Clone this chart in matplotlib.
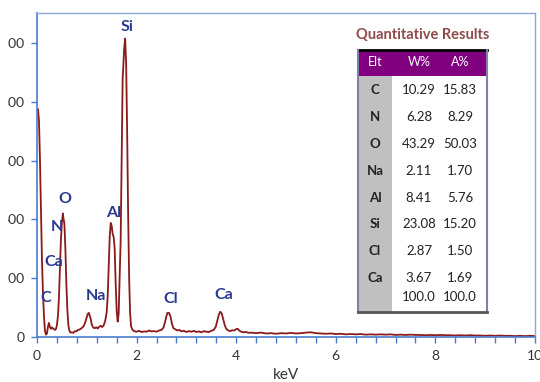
import matplotlib
matplotlib.use("Agg")
import matplotlib.pyplot as plt
from matplotlib.patches import Rectangle
from matplotlib.ticker import MultipleLocator

plt.rcParams['font.family'] = ['Lato', 'DejaVu Sans']

# spectrum (keV, counts)
kev = [0.00, 0.02, 0.04, 0.06, 0.08, 0.10, 0.12, 0.14, 0.16, 0.18, 0.20, 0.22, 0.24, 0.26,
       0.28, 0.30, 0.32, 0.34, 0.36, 0.38, 0.40, 0.42, 0.44, 0.46, 0.48, 0.50, 0.52, 0.53,
       0.55, 0.57, 0.59, 0.61, 0.63, 0.65, 0.67, 0.70, 0.73, 0.76, 0.79, 0.82, 0.85, 0.88,
       0.91, 0.94, 0.97, 1.00, 1.02, 1.04, 1.06, 1.08, 1.10, 1.13, 1.16, 1.19, 1.22, 1.25,
       1.28, 1.31, 1.34, 1.37, 1.40, 1.42, 1.44, 1.46, 1.48, 1.50, 1.52, 1.54, 1.56, 1.58,
       1.60, 1.62, 1.64, 1.66, 1.68, 1.70, 1.72, 1.73, 1.75, 1.77, 1.79, 1.81, 1.83, 1.85,
       1.87, 1.89, 1.92,
       1.95, 2.00, 2.05, 2.10, 2.15, 2.20, 2.25, 2.30, 2.35, 2.40, 2.45, 2.50, 2.54, 2.57,
       2.60, 2.62, 2.65, 2.68, 2.71, 2.74, 2.78, 2.82, 2.86, 2.90, 2.95, 3.00, 3.05, 3.10,
       3.15, 3.20, 3.25, 3.30, 3.35, 3.40, 3.45, 3.50, 3.55, 3.59, 3.62, 3.65, 3.68, 3.71,
       3.74, 3.77, 3.80, 3.84, 3.88, 3.92, 3.96, 4.00, 4.03, 4.06, 4.10, 4.15, 4.20, 4.25,
       4.30,
       4.4, 4.5, 4.6, 4.7, 4.8, 4.9, 5.0, 5.1, 5.2, 5.3, 5.4, 5.5, 5.6, 5.7, 5.8, 5.9,
       6.0, 6.1, 6.2, 6.3, 6.4, 6.5, 6.6, 6.7, 6.8, 6.9, 7.0, 7.1, 7.2, 7.3, 7.4, 7.5,
       7.6, 7.7, 7.8, 7.9, 8.0, 8.1, 8.2, 8.3, 8.4, 8.5, 8.6, 8.7, 8.8, 8.9, 9.0, 9.1,
       9.2, 9.3, 9.4, 9.5, 9.6, 9.7, 9.8, 9.9, 10.0]
counts = [770, 775, 735, 600, 430, 260, 150, 70, 20, 8, 12, 35, 48, 34,
          28, 33, 29, 27, 24, 27, 40, 70, 130, 230, 330, 390, 420, 405,
          385, 300, 180, 90, 40, 22, 15, 16, 14, 20, 19, 24, 25, 28,
          32, 38, 50, 68, 78, 82, 72, 60, 42, 32, 30, 33, 29, 35,
          38, 34, 40, 55, 85, 140, 240, 340, 388, 378, 350, 340, 300, 180,
          90, 52, 80, 200, 330, 600, 880, 910, 980, 1015, 930, 700, 420, 200,
          80, 35, 24,
          20, 18, 21, 17, 19, 18, 22, 19, 20, 18, 22, 24, 32, 50,
          72, 82, 82, 70, 45, 30, 26, 22, 24, 19, 21, 17, 20, 18,
          21, 17, 19, 16, 20, 18, 17, 21, 24, 35, 55, 75, 86, 80,
          60, 40, 28, 22, 20, 23, 22, 27, 28, 22, 18, 16, 17, 14,
          15,
          13, 15, 12, 13, 11, 13, 12, 14, 12, 13, 15, 16, 13, 12, 11, 12,
          10, 11, 9, 10, 9, 10, 8, 9, 8, 9, 8, 9, 7, 8, 7, 8,
          7, 7, 6, 7, 6, 7, 6, 6, 5, 6, 5, 6, 5, 5, 4, 5,
          4, 5, 4, 4, 3, 4, 3, 4, 3]

# peak labels
peak_names = ['Si', 'O', 'N', 'Ca', 'C', 'Na', 'Al', 'Cl', 'Ca']
peak_x = [1.81, 0.56, 0.40, 0.34, 0.18, 1.18, 1.53, 2.69, 3.75]
peak_y = [1056, 470, 375, 255, 133, 140, 422, 129, 143]

# quantitative results table
elements = ['C', 'N', 'O', 'Na', 'Al', 'Si', 'Cl', 'Ca']
wt_pct = ['10.29', '6.28', '43.29', '2.11', '8.41', '23.08', '2.87', '3.67']
at_pct = ['15.83', '8.29', '50.03', '1.70', '5.76', '15.20', '1.50', '1.69']
totals = ['100.0', '100.0']
headers = ['Elt', 'W%', 'A%']

W, H = 540, 382
fig = plt.figure(figsize=(5.4, 3.82), dpi=100)
ax = fig.add_axes([37 / W, (H - 337) / H, 498 / W, 324 / H])

ax.plot(kev, counts, color='#8B1A1A', lw=1.3)
ax.set_xlim(0, 10)
ax.set_ylim(0, 1102)
ax.xaxis.set_major_locator(MultipleLocator(2))
ax.xaxis.set_minor_locator(MultipleLocator(0.4))
ax.yaxis.set_major_locator(MultipleLocator(200))

blue = '#4A7BD0'
for s in ['left', 'bottom']:
    ax.spines[s].set_color(blue)
    ax.spines[s].set_linewidth(1.2)
for s in ['top', 'right']:
    ax.spines[s].set_color('#8EAADB')
    ax.spines[s].set_linewidth(1.0)
ax.tick_params(which='both', direction='out', color=blue, length=4, width=1,
               labelsize=10, labelcolor='#333333', pad=5)
ax.tick_params(axis='x', pad=5)
ax.set_xlabel('keV', fontsize=11, color='#333333', labelpad=5)

for name, x, y in zip(peak_names, peak_x, peak_y):
    ax.text(x, y, name, ha='center', va='center', fontsize=11.5, fontweight='bold',
            color='#2B3990')

# overlay in pixel coordinates for the table
ov = fig.add_axes([0, 0, 1, 1], zorder=5)
ov.set_xlim(0, W)
ov.set_ylim(H, 0)
ov.axis('off')
ov.patch.set_alpha(0)

tl, tr, tt, tb = 358, 487, 50, 312
hb = 76
ov.add_patch(Rectangle((tl, tt), tr - tl, tb - tt, facecolor='white', edgecolor='none'))
ov.add_patch(Rectangle((tl, tt), tr - tl, hb - tt, facecolor='#800080', edgecolor='none'))
ov.add_patch(Rectangle((tl, hb), 34, tb - hb, facecolor='#C0C0C0', edgecolor='none'))
ov.plot([tl, tr], [tt, tt], color='black', lw=2)
ov.plot([tl, tl], [tt, tb], color='#7F7FB0', lw=1.5)
ov.plot([tr, tr], [tt, tb], color='#7F7FB0', lw=1.5)
ov.plot([tl, tr], [tb, tb], color='#555555', lw=2)

ov.text(423, 35, 'Quantitative Results', ha='center', va='center', fontsize=10.5,
        fontweight='bold', color='#8E4B4B')

col_x = [375, 419, 460]
for cx, h in zip(col_x, headers):
    ov.text(cx, 62, h, ha='center', va='center', fontsize=9, color='white')

for i, (el, w, a) in enumerate(zip(elements, wt_pct, at_pct)):
    y = 90 + i * 26.9
    ov.text(col_x[0], y, el, ha='center', va='center', fontsize=9.5, fontweight='bold',
            color='#222222')
    ov.text(col_x[1], y, w, ha='center', va='center', fontsize=9.5, color='#222222')
    ov.text(col_x[2], y, a, ha='center', va='center', fontsize=9.5, color='#222222')
ov.text(col_x[1], 297, totals[0], ha='center', va='center', fontsize=9.5, color='#222222')
ov.text(col_x[2], 297, totals[1], ha='center', va='center', fontsize=9.5, color='#222222')

# the reference is cropped on the left edge
ov.add_patch(Rectangle((0, 0), 8, H, facecolor='white', edgecolor='none'))

fig.savefig('out.png', dpi=100, facecolor='white')
